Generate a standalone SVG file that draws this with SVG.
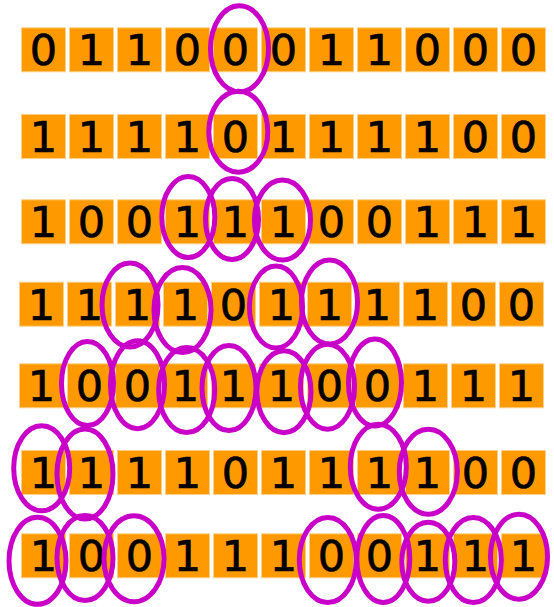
<svg xmlns="http://www.w3.org/2000/svg" width="554" height="607" viewBox="0 0 554 607">
<defs>
<style>
.c rect{fill:#ff9900;stroke:#ffd08a;stroke-width:1}
.c text{font-family:"DejaVu Sans",sans-serif;font-size:43px;fill:#000;stroke:#000;stroke-width:0.7;text-anchor:middle}
.m ellipse{fill:none;stroke:#c800c8;stroke-width:5}
</style>
</defs>
<rect width="554" height="607" fill="#fff"/>
<g class="c">
<g id="row1" transform="translate(21,27.3)">
<g id="r1c0"><rect x="0.5" y="0.5" width="44" height="44"/><text x="22.5" y="38">0</text></g>
<g id="r1c1" transform="translate(48,0)"><rect x="0.5" y="0.5" width="44" height="44"/><text x="22.5" y="38">1</text></g>
<g id="r1c2" transform="translate(96,0)"><rect x="0.5" y="0.5" width="44" height="44"/><text x="22.5" y="38">1</text></g>
<g id="r1c3" transform="translate(144,0)"><rect x="0.5" y="0.5" width="44" height="44"/><text x="22.5" y="38">0</text></g>
<g id="r1c4" transform="translate(192,0)"><rect x="0.5" y="0.5" width="44" height="44"/><text x="22.5" y="38">0</text></g>
<g id="r1c5" transform="translate(240,0)"><rect x="0.5" y="0.5" width="44" height="44"/><text x="22.5" y="38">0</text></g>
<g id="r1c6" transform="translate(288,0)"><rect x="0.5" y="0.5" width="44" height="44"/><text x="22.5" y="38">1</text></g>
<g id="r1c7" transform="translate(336,0)"><rect x="0.5" y="0.5" width="44" height="44"/><text x="22.5" y="38">1</text></g>
<g id="r1c8" transform="translate(384,0)"><rect x="0.5" y="0.5" width="44" height="44"/><text x="22.5" y="38">0</text></g>
<g id="r1c9" transform="translate(432,0)"><rect x="0.5" y="0.5" width="44" height="44"/><text x="22.5" y="38">0</text></g>
<g id="r1c10" transform="translate(480,0)"><rect x="0.5" y="0.5" width="44" height="44"/><text x="22.5" y="38">0</text></g>
</g>
<g id="row2" transform="translate(21,114)">
<g id="r2c0"><rect x="0.5" y="0.5" width="44" height="44"/><text x="22.5" y="38">1</text></g>
<g id="r2c1" transform="translate(48,0)"><rect x="0.5" y="0.5" width="44" height="44"/><text x="22.5" y="38">1</text></g>
<g id="r2c2" transform="translate(96,0)"><rect x="0.5" y="0.5" width="44" height="44"/><text x="22.5" y="38">1</text></g>
<g id="r2c3" transform="translate(144,0)"><rect x="0.5" y="0.5" width="44" height="44"/><text x="22.5" y="38">1</text></g>
<g id="r2c4" transform="translate(192,0)"><rect x="0.5" y="0.5" width="44" height="44"/><text x="22.5" y="38">0</text></g>
<g id="r2c5" transform="translate(240,0)"><rect x="0.5" y="0.5" width="44" height="44"/><text x="22.5" y="38">1</text></g>
<g id="r2c6" transform="translate(288,0)"><rect x="0.5" y="0.5" width="44" height="44"/><text x="22.5" y="38">1</text></g>
<g id="r2c7" transform="translate(336,0)"><rect x="0.5" y="0.5" width="44" height="44"/><text x="22.5" y="38">1</text></g>
<g id="r2c8" transform="translate(384,0)"><rect x="0.5" y="0.5" width="44" height="44"/><text x="22.5" y="38">1</text></g>
<g id="r2c9" transform="translate(432,0)"><rect x="0.5" y="0.5" width="44" height="44"/><text x="22.5" y="38">0</text></g>
<g id="r2c10" transform="translate(480,0)"><rect x="0.5" y="0.5" width="44" height="44"/><text x="22.5" y="38">0</text></g>
</g>
<g id="row3" transform="translate(21,199.3)">
<g id="r3c0"><rect x="0.5" y="0.5" width="44" height="44"/><text x="22.5" y="38">1</text></g>
<g id="r3c1" transform="translate(48,0)"><rect x="0.5" y="0.5" width="44" height="44"/><text x="22.5" y="38">0</text></g>
<g id="r3c2" transform="translate(96,0)"><rect x="0.5" y="0.5" width="44" height="44"/><text x="22.5" y="38">0</text></g>
<g id="r3c3" transform="translate(144,0)"><rect x="0.5" y="0.5" width="44" height="44"/><text x="22.5" y="38">1</text></g>
<g id="r3c4" transform="translate(192,0)"><rect x="0.5" y="0.5" width="44" height="44"/><text x="22.5" y="38">1</text></g>
<g id="r3c5" transform="translate(240,0)"><rect x="0.5" y="0.5" width="44" height="44"/><text x="22.5" y="38">1</text></g>
<g id="r3c6" transform="translate(288,0)"><rect x="0.5" y="0.5" width="44" height="44"/><text x="22.5" y="38">0</text></g>
<g id="r3c7" transform="translate(336,0)"><rect x="0.5" y="0.5" width="44" height="44"/><text x="22.5" y="38">0</text></g>
<g id="r3c8" transform="translate(384,0)"><rect x="0.5" y="0.5" width="44" height="44"/><text x="22.5" y="38">1</text></g>
<g id="r3c9" transform="translate(432,0)"><rect x="0.5" y="0.5" width="44" height="44"/><text x="22.5" y="38">1</text></g>
<g id="r3c10" transform="translate(480,0)"><rect x="0.5" y="0.5" width="44" height="44"/><text x="22.5" y="38">1</text></g>
</g>
<g id="row4" transform="translate(19,281.7)">
<g id="r4c0"><rect x="0.5" y="0.5" width="44" height="44"/><text x="22.5" y="38">1</text></g>
<g id="r4c1" transform="translate(48,0)"><rect x="0.5" y="0.5" width="44" height="44"/><text x="22.5" y="38">1</text></g>
<g id="r4c2" transform="translate(96,0)"><rect x="0.5" y="0.5" width="44" height="44"/><text x="22.5" y="38">1</text></g>
<g id="r4c3" transform="translate(144,0)"><rect x="0.5" y="0.5" width="44" height="44"/><text x="22.5" y="38">1</text></g>
<g id="r4c4" transform="translate(192,0)"><rect x="0.5" y="0.5" width="44" height="44"/><text x="22.5" y="38">0</text></g>
<g id="r4c5" transform="translate(240,0)"><rect x="0.5" y="0.5" width="44" height="44"/><text x="22.5" y="38">1</text></g>
<g id="r4c6" transform="translate(288,0)"><rect x="0.5" y="0.5" width="44" height="44"/><text x="22.5" y="38">1</text></g>
<g id="r4c7" transform="translate(336,0)"><rect x="0.5" y="0.5" width="44" height="44"/><text x="22.5" y="38">1</text></g>
<g id="r4c8" transform="translate(384,0)"><rect x="0.5" y="0.5" width="44" height="44"/><text x="22.5" y="38">1</text></g>
<g id="r4c9" transform="translate(432,0)"><rect x="0.5" y="0.5" width="44" height="44"/><text x="22.5" y="38">0</text></g>
<g id="r4c10" transform="translate(480,0)"><rect x="0.5" y="0.5" width="44" height="44"/><text x="22.5" y="38">0</text></g>
</g>
<g id="row5" transform="translate(19,363.3)">
<g id="r5c0"><rect x="0.5" y="0.5" width="44" height="44"/><text x="22.5" y="38">1</text></g>
<g id="r5c1" transform="translate(48,0)"><rect x="0.5" y="0.5" width="44" height="44"/><text x="22.5" y="38">0</text></g>
<g id="r5c2" transform="translate(96,0)"><rect x="0.5" y="0.5" width="44" height="44"/><text x="22.5" y="38">0</text></g>
<g id="r5c3" transform="translate(144,0)"><rect x="0.5" y="0.5" width="44" height="44"/><text x="22.5" y="38">1</text></g>
<g id="r5c4" transform="translate(192,0)"><rect x="0.5" y="0.5" width="44" height="44"/><text x="22.5" y="38">1</text></g>
<g id="r5c5" transform="translate(240,0)"><rect x="0.5" y="0.5" width="44" height="44"/><text x="22.5" y="38">1</text></g>
<g id="r5c6" transform="translate(288,0)"><rect x="0.5" y="0.5" width="44" height="44"/><text x="22.5" y="38">0</text></g>
<g id="r5c7" transform="translate(336,0)"><rect x="0.5" y="0.5" width="44" height="44"/><text x="22.5" y="38">0</text></g>
<g id="r5c8" transform="translate(384,0)"><rect x="0.5" y="0.5" width="44" height="44"/><text x="22.5" y="38">1</text></g>
<g id="r5c9" transform="translate(432,0)"><rect x="0.5" y="0.5" width="44" height="44"/><text x="22.5" y="38">1</text></g>
<g id="r5c10" transform="translate(480,0)"><rect x="0.5" y="0.5" width="44" height="44"/><text x="22.5" y="38">1</text></g>
</g>
<g id="row6" transform="translate(21,450)">
<g id="r6c0"><rect x="0.5" y="0.5" width="44" height="44"/><text x="22.5" y="38">1</text></g>
<g id="r6c1" transform="translate(48,0)"><rect x="0.5" y="0.5" width="44" height="44"/><text x="22.5" y="38">1</text></g>
<g id="r6c2" transform="translate(96,0)"><rect x="0.5" y="0.5" width="44" height="44"/><text x="22.5" y="38">1</text></g>
<g id="r6c3" transform="translate(144,0)"><rect x="0.5" y="0.5" width="44" height="44"/><text x="22.5" y="38">1</text></g>
<g id="r6c4" transform="translate(192,0)"><rect x="0.5" y="0.5" width="44" height="44"/><text x="22.5" y="38">0</text></g>
<g id="r6c5" transform="translate(240,0)"><rect x="0.5" y="0.5" width="44" height="44"/><text x="22.5" y="38">1</text></g>
<g id="r6c6" transform="translate(288,0)"><rect x="0.5" y="0.5" width="44" height="44"/><text x="22.5" y="38">1</text></g>
<g id="r6c7" transform="translate(336,0)"><rect x="0.5" y="0.5" width="44" height="44"/><text x="22.5" y="38">1</text></g>
<g id="r6c8" transform="translate(384,0)"><rect x="0.5" y="0.5" width="44" height="44"/><text x="22.5" y="38">1</text></g>
<g id="r6c9" transform="translate(432,0)"><rect x="0.5" y="0.5" width="44" height="44"/><text x="22.5" y="38">0</text></g>
<g id="r6c10" transform="translate(480,0)"><rect x="0.5" y="0.5" width="44" height="44"/><text x="22.5" y="38">0</text></g>
</g>
<g id="row7" transform="translate(21,533.3)">
<g id="r7c0"><rect x="0.5" y="0.5" width="44" height="44"/><text x="22.5" y="38">1</text></g>
<g id="r7c1" transform="translate(48,0)"><rect x="0.5" y="0.5" width="44" height="44"/><text x="22.5" y="38">0</text></g>
<g id="r7c2" transform="translate(96,0)"><rect x="0.5" y="0.5" width="44" height="44"/><text x="22.5" y="38">0</text></g>
<g id="r7c3" transform="translate(144,0)"><rect x="0.5" y="0.5" width="44" height="44"/><text x="22.5" y="38">1</text></g>
<g id="r7c4" transform="translate(192,0)"><rect x="0.5" y="0.5" width="44" height="44"/><text x="22.5" y="38">1</text></g>
<g id="r7c5" transform="translate(240,0)"><rect x="0.5" y="0.5" width="44" height="44"/><text x="22.5" y="38">1</text></g>
<g id="r7c6" transform="translate(288,0)"><rect x="0.5" y="0.5" width="44" height="44"/><text x="22.5" y="38">0</text></g>
<g id="r7c7" transform="translate(336,0)"><rect x="0.5" y="0.5" width="44" height="44"/><text x="22.5" y="38">0</text></g>
<g id="r7c8" transform="translate(384,0)"><rect x="0.5" y="0.5" width="44" height="44"/><text x="22.5" y="38">1</text></g>
<g id="r7c9" transform="translate(432,0)"><rect x="0.5" y="0.5" width="44" height="44"/><text x="22.5" y="38">1</text></g>
<g id="r7c10" transform="translate(480,0)"><rect x="0.5" y="0.5" width="44" height="44"/><text x="22.5" y="38">1</text></g>
</g>
</g>
<g id="marks" class="m">
<ellipse cx="239.5" cy="48.8" rx="29" ry="43"/>
<ellipse cx="238.3" cy="131.7" rx="29.5" ry="40.5"/>
<ellipse cx="188.3" cy="217" rx="26.5" ry="40.5"/>
<ellipse cx="232" cy="219" rx="26.5" ry="40.5"/>
<ellipse cx="282.5" cy="220" rx="28" ry="40"/>
<ellipse cx="130" cy="305" rx="28" ry="42"/>
<ellipse cx="182.5" cy="310" rx="28.5" ry="42.5"/>
<ellipse cx="276" cy="307" rx="26.5" ry="41"/>
<ellipse cx="329.5" cy="302" rx="28" ry="42"/>
<ellipse cx="87.5" cy="383.5" rx="26" ry="42"/>
<ellipse cx="137.5" cy="384.7" rx="27" ry="44"/>
<ellipse cx="186.7" cy="390" rx="28" ry="42.5"/>
<ellipse cx="229" cy="388" rx="27" ry="42.5"/>
<ellipse cx="284" cy="391.7" rx="27" ry="41"/>
<ellipse cx="327.5" cy="386.7" rx="27" ry="42.5"/>
<ellipse cx="375" cy="382.5" rx="26.5" ry="43.5"/>
<ellipse cx="41.7" cy="468.3" rx="28" ry="42.5"/>
<ellipse cx="85" cy="474" rx="28" ry="45"/>
<ellipse cx="378.3" cy="466.7" rx="28" ry="42.5"/>
<ellipse cx="428.3" cy="471.7" rx="29" ry="42.5"/>
<ellipse cx="37.5" cy="560.8" rx="28.5" ry="43.5"/>
<ellipse cx="85" cy="558" rx="28" ry="42.5"/>
<ellipse cx="134" cy="558.7" rx="30" ry="43"/>
<ellipse cx="327.8" cy="560" rx="28.5" ry="42.5"/>
<ellipse cx="383.3" cy="559" rx="26.5" ry="43.5"/>
<ellipse cx="428.3" cy="561.7" rx="26.5" ry="39.5"/>
<ellipse cx="473.3" cy="560" rx="28" ry="42.5"/>
<ellipse cx="519" cy="556.7" rx="28.5" ry="42.5"/>
</g>
</svg>
